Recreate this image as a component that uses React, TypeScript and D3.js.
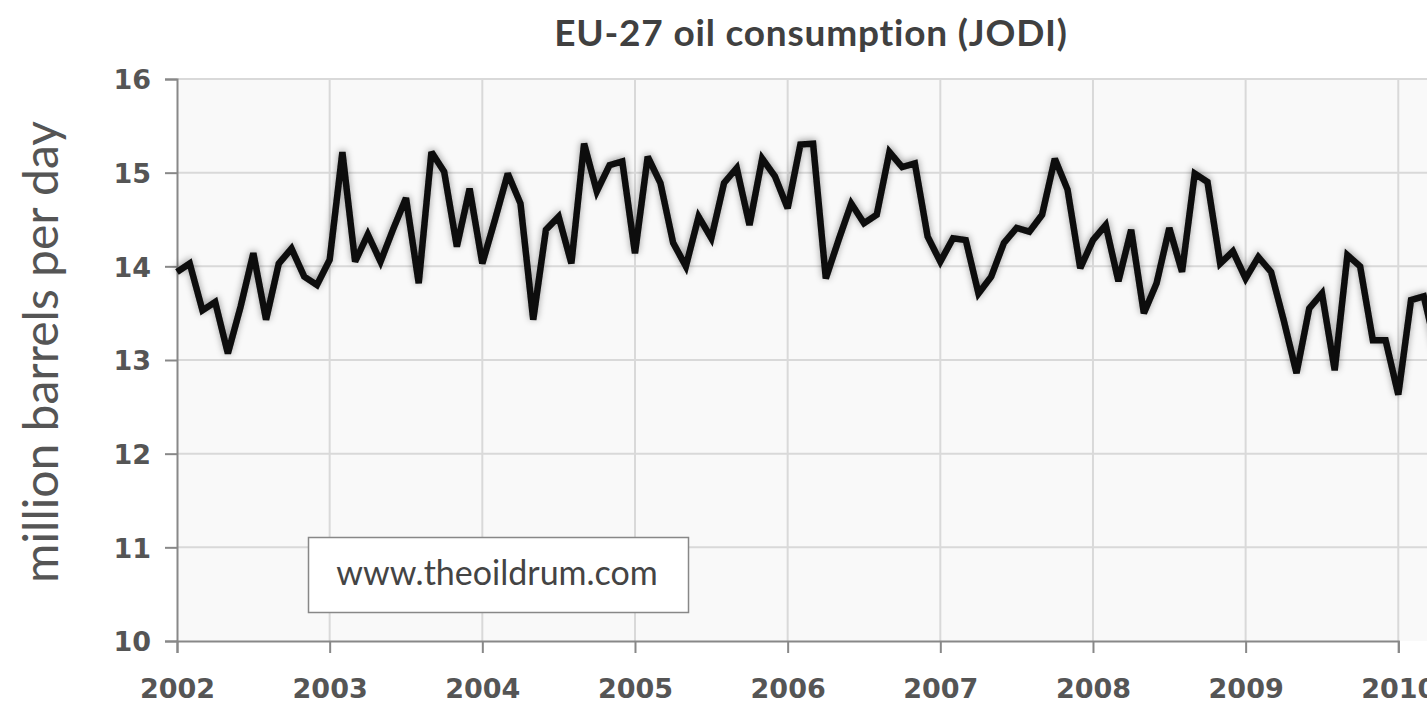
import { useRef, useEffect } from 'react'
import { select, scaleLinear, line, axisLeft, axisBottom } from 'd3'

const width = 1427
const height = 720
const margin = { top: 79, left: 177, bottom: 79 }

// monthly values, Jan 2002 .. Apr 2010 (million barrels per day)
const values2002 = [13.94, 14.03, 13.53, 13.62, 13.07, 13.57, 14.14, 13.43, 14.03, 14.19, 13.89, 13.80]
const values2003 = [14.07, 15.22, 14.05, 14.34, 14.05, 14.40, 14.73, 13.82, 15.22, 15.01, 14.21, 14.83]
const values2004 = [14.03, 14.50, 14.99, 14.67, 13.43, 14.39, 14.53, 14.03, 15.31, 14.80, 15.08, 15.12]
const values2005 = [14.14, 15.17, 14.89, 14.25, 14.00, 14.53, 14.30, 14.89, 15.05, 14.44, 15.15, 14.96]
const values2006 = [14.62, 15.30, 15.31, 13.87, 14.28, 14.67, 14.46, 14.55, 15.22, 15.06, 15.10, 14.32]
const values2007 = [14.05, 14.30, 14.28, 13.71, 13.89, 14.25, 14.41, 14.37, 14.55, 15.15, 14.82, 13.98]
const values2008 = [14.28, 14.44, 13.84, 14.39, 13.50, 13.82, 14.41, 13.94, 14.99, 14.90, 14.03, 14.16]
const values2009 = [13.87, 14.10, 13.94, 13.42, 12.86, 13.55, 13.71, 12.89, 14.12, 14.00, 13.21, 13.21]
const values2010 = [12.63, 13.64, 13.68, 13.10]

const years = [2002, 2003, 2004, 2005, 2006, 2007, 2008, 2009, 2010]
const yTicks = [10, 11, 12, 13, 14, 15, 16]

const data = [
  ...values2002, ...values2003, ...values2004, ...values2005, ...values2006,
  ...values2007, ...values2008, ...values2009, ...values2010
]

const title = 'EU-27 oil consumption (JODI)'
const yTitle = 'million barrels per day'
const watermark = 'www.theoildrum.com'

const App = () => {
  const svgRef = useRef<SVGSVGElement>(null)

  useEffect(() => {
    const svg = select(svgRef.current)
    svg.selectAll('*').remove()

    const xScale = scaleLinear().domain([0, 96]).range([margin.left, 1398.3])
    const yScale = scaleLinear().domain([10, 16]).range([height - margin.bottom, margin.top])

    const defs = svg.append('defs')
    const filter = defs.append('filter').attr('id', 'glow')
      .attr('x', '-5%').attr('y', '-20%').attr('width', '110%').attr('height', '140%')
    filter.append('feDropShadow')
      .attr('dx', 0).attr('dy', -1).attr('stdDeviation', 3.5)
      .attr('flood-color', '#000').attr('flood-opacity', 0.4)

    // plot background
    svg.append('rect')
      .attr('x', margin.left).attr('y', margin.top)
      .attr('width', width - margin.left + 20)
      .attr('height', yScale(10) - yScale(16))
      .attr('fill', '#f9f9f9')

    // gridlines
    svg.append('g').selectAll('line').data(yTicks.slice(1)).join('line')
      .attr('x1', margin.left).attr('x2', width + 10)
      .attr('y1', d => yScale(d)).attr('y2', d => yScale(d))
      .attr('stroke', '#d9d9d9').attr('stroke-width', 2)
    svg.append('g').selectAll('line').data(years.slice(1)).join('line')
      .attr('x1', (d, i) => xScale((i + 1) * 12)).attr('x2', (d, i) => xScale((i + 1) * 12))
      .attr('y1', margin.top).attr('y2', yScale(10))
      .attr('stroke', '#d9d9d9').attr('stroke-width', 2)

    // axes
    const yAxis = axisLeft(yScale).tickValues(yTicks).tickSize(12).tickPadding(14).tickFormat(d => String(d))
    const gy = svg.append('g').attr('class', 'axis')
      .attr('transform', `translate(${margin.left},0)`)
      .call(yAxis)
    gy.select('.domain').attr('stroke', '#888').attr('stroke-width', 2)

    const xAxis = axisBottom(xScale).tickValues(years.map((y, i) => i * 12))
      .tickSize(12).tickPadding(26).tickFormat((d, i) => String(years[i]))
    const gx = svg.append('g').attr('class', 'axis')
      .attr('transform', `translate(0,${yScale(10)})`)
      .call(xAxis)
    gx.select('.domain').attr('stroke', '#888').attr('stroke-width', 2)

    svg.selectAll('.axis .tick line').attr('stroke', '#888').attr('stroke-width', 2)
    svg.selectAll('.axis text')
      .attr('fill', '#555')
      .style('font-family', '"DejaVu Sans", Verdana, sans-serif')
      .style('font-weight', 'bold')
      .style('font-size', '27px')
    gy.selectAll('text').attr('dy', '0.36em')

    // watermark
    svg.append('rect')
      .attr('x', 308.5).attr('y', 537.5).attr('width', 380).attr('height', 75)
      .attr('fill', '#fff').attr('stroke', '#888').attr('stroke-width', 1.5)
    svg.append('text')
      .attr('x', 497).attr('y', 585)
      .attr('text-anchor', 'middle')
      .attr('fill', '#444')
      .style('font-family', 'Lato, sans-serif')
      .style('font-size', '34px')
      .text(watermark)

    // series
    const path = line<number>().x((d, i) => xScale(i)).y(d => yScale(d))
    svg.append('path')
      .datum(data)
      .attr('d', path)
      .attr('fill', 'none')
      .attr('stroke', '#0a0a0a')
      .attr('stroke-width', 6.5)
      .attr('stroke-linejoin', 'miter')
      .attr('stroke-miterlimit', 3)
      .attr('filter', 'url(#glow)')

    // titles
    svg.append('text')
      .attr('x', 811).attr('y', 46)
      .attr('text-anchor', 'middle')
      .attr('fill', '#404040')
      .style('font-family', 'Lato, sans-serif')
      .style('font-weight', 'bold')
      .style('font-size', '37px')
      .style('letter-spacing', '0.8px')
      .text(title)

    svg.append('text')
      .attr('transform', `translate(58,352) rotate(-90)`)
      .attr('text-anchor', 'middle')
      .attr('fill', '#555')
      .style('font-family', 'Lato, sans-serif')
      .style('font-size', '48px')
      .text(yTitle)
  }, [])

  return (
    <svg ref={svgRef} width={width} height={height}
      style={{ position: 'absolute', left: 0, top: 0, background: '#fff' }} />
  )
}

export default App
